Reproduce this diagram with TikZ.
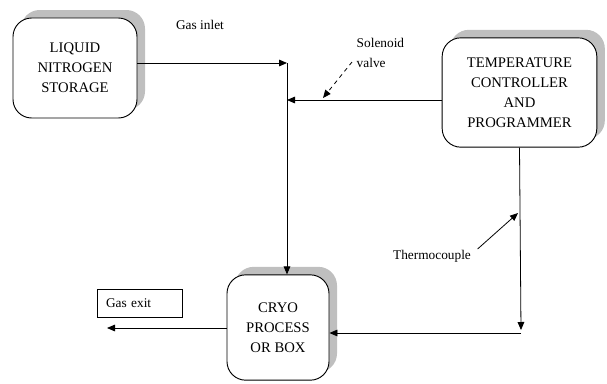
\documentclass[tikz,border=0pt]{standalone}
\usepackage{fontspec}
\setmainfont{Liberation Serif}
\usetikzlibrary{arrows.meta,positioning,calc,shadows}

\begin{document}
\begin{tikzpicture}[
    x=0.75pt, y=-0.75pt,
    unit/.style={
        draw,
        line width=0.7pt,
        fill=white,
        rounded corners=14pt,
        align=center,
        inner sep=0pt,
        font=\fontsize{11}{15}\selectfont,
        general shadow={fill=black!25, shadow xshift=6pt, shadow yshift=6pt}
    },
    tag/.style={font=\fontsize{10}{15}\selectfont},
    arrow/.style={-{Triangle[length=6pt,width=5pt]}, line width=0.6pt}
]
\useasboundingbox (0,0) rectangle (607,383);

\node[unit, minimum width=93pt, minimum height=75pt] (ln) at (75,68) {LIQUID\\NITROGEN\\STORAGE};
\node[unit, minimum width=116pt, minimum height=82pt] (temp) at (519.5,92.5) {TEMPERATURE\\CONTROLLER\\AND\\PROGRAMMER};
\node[unit, minimum width=76.5pt, minimum height=79pt] (cryo) at (278,327.5) {CRYO\\PROCESS\\OR BOX};
\node[draw, line width=0.6pt, tag, text width=51pt, inner xsep=6.5pt, inner ysep=0pt,
      minimum height=21pt, align=left] (exit) at (140,303) {Gas exit};

% labels
\node[tag] (inlet) at (200,25) {Gas inlet};
\node[tag, anchor=west, align=left] (valve) at (352,53) {Solenoid\\valve};
\node[tag] (thermo) at (432,256) {Thermocouple};

% junctions
\coordinate (j1) at (287,63);
\coordinate (j2) at (287,100);
\coordinate (corner) at (521,330);
\coordinate (sv) at (323,98);
\coordinate (tc) at (518,213);
\coordinate (out) at (107,328);

\draw[arrow] (ln.east |- j1) -- (j1);
\draw[arrow] (j1) -- (cryo.north -| j1);
\draw[arrow] (temp.west |- j2) -- (j2);
\draw[arrow, dashed] (352,62) -- (sv);
\draw[arrow] (temp.south) -- (corner);
\draw[arrow] ($(corner)+(0,3)$) -- (cryo.east |- 0,333);
\draw[arrow] ($(thermo.east)+(2,-7)$) -- (tc);
\draw[arrow] (cryo.west |- out) -- (out);
\end{tikzpicture}
\end{document}
